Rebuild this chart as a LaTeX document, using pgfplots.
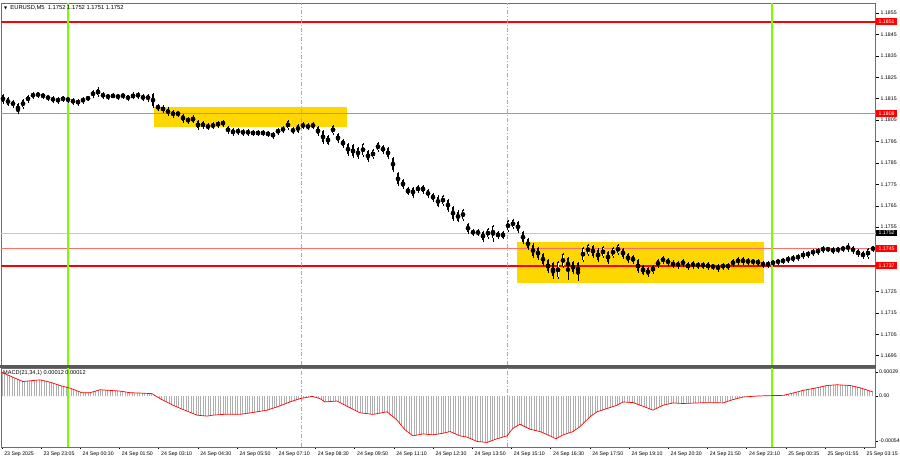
\documentclass[border=0pt]{standalone}
\usepackage{pgfplots}
\pgfplotsset{compat=1.18}
\usepackage{pgfplotstable}
\usepackage{fontspec}
\setmainfont{Liberation Sans}
\newfontfamily\symfont{DejaVu Sans}
\usetikzlibrary{patterns.meta}
\definecolor{mtred}{RGB}{255,0,0}
\definecolor{mtpink}{RGB}{255,110,110}
\definecolor{mtgold}{RGB}{255,215,0}
\definecolor{mtgreen}{RGB}{124,252,0}
\definecolor{mtdash}{RGB}{154,205,50}
\definecolor{histgray}{RGB}{175,175,175}
\definecolor{frame}{RGB}{110,110,110}
\newcommand\lab{\fontsize{5.2}{6}\selectfont}

\pgfplotstableread{
x o c
3 1.18167 1.18135
8 1.18153 1.18121
13 1.18139 1.18116
18 1.18125 1.18088
23 1.18111 1.18144
28 1.18139 1.18162
33 1.18158 1.18176
38 1.18162 1.18176
43 1.18172 1.18158
48 1.18162 1.18148
53 1.18158 1.18139
58 1.18153 1.18135
63 1.18144 1.18158
68 1.18153 1.18139
73 1.18148 1.18130
78 1.18144 1.18125
83 1.18135 1.18153
88 1.18148 1.18158
93 1.18162 1.18185
98 1.18167 1.18195
103 1.18176 1.18158
108 1.18167 1.18153
113 1.18158 1.18167
118 1.18167 1.18153
123 1.18158 1.18172
128 1.18162 1.18148
133 1.18153 1.18172
138 1.18158 1.18176
143 1.18167 1.18148
148 1.18167 1.18144
153 1.18172 1.18116
158 1.18121 1.18102
163 1.18111 1.18092
168 1.18102 1.18078
173 1.18092 1.18069
178 1.18074 1.18088
183 1.18074 1.18045
188 1.18060 1.18041
193 1.18045 1.18064
198 1.18045 1.18013
203 1.18017 1.18041
208 1.18031 1.18013
213 1.18017 1.18036
218 1.18022 1.18041
223 1.18027 1.18045
228 1.18017 1.17994
233 1.18008 1.17984
238 1.17989 1.18008
243 1.18003 1.17984
248 1.17984 1.18003
253 1.17998 1.17984
258 1.17984 1.17998
263 1.17998 1.17984
268 1.17994 1.17980
273 1.17989 1.17970
278 1.17989 1.18008
283 1.17998 1.18017
288 1.18013 1.18045
293 1.18013 1.17994
298 1.17998 1.18027
303 1.18017 1.18036
308 1.18031 1.18013
313 1.18017 1.18036
318 1.18017 1.17984
323 1.17998 1.17947
328 1.17975 1.17938
333 1.17989 1.18022
338 1.17984 1.17952
343 1.17957 1.17929
348 1.17938 1.17891
353 1.17933 1.17882
358 1.17919 1.17877
363 1.17887 1.17938
368 1.17905 1.17863
373 1.17877 1.17910
378 1.17910 1.17943
383 1.17929 1.17901
388 1.17919 1.17877
393 1.17873 1.17817
398 1.17803 1.17751
403 1.17770 1.17737
408 1.17733 1.17705
413 1.17733 1.17695
418 1.17719 1.17742
423 1.17742 1.17714
428 1.17723 1.17695
433 1.17705 1.17677
438 1.17691 1.17649
443 1.17658 1.17695
448 1.17677 1.17630
453 1.17644 1.17588
458 1.17621 1.17579
463 1.17588 1.17630
468 1.17564 1.17527
473 1.17537 1.17518
478 1.17537 1.17514
483 1.17527 1.17490
488 1.17504 1.17541
493 1.17500 1.17555
498 1.17527 1.17504
503 1.17527 1.17500
508 1.17537 1.17579
513 1.17550 1.17583
518 1.17574 1.17532
523 1.17527 1.17481
528 1.17495 1.17453
533 1.17467 1.17415
538 1.17453 1.17406
543 1.17424 1.17378
548 1.17396 1.17345
553 1.17382 1.17322
558 1.17317 1.17387
563 1.17368 1.17424
568 1.17406 1.17350
573 1.17387 1.17341
578 1.17382 1.17326
583 1.17396 1.17453
588 1.17424 1.17467
593 1.17462 1.17415
598 1.17443 1.17396
603 1.17415 1.17457
608 1.17434 1.17387
613 1.17415 1.17453
618 1.17429 1.17467
623 1.17448 1.17410
628 1.17424 1.17391
633 1.17415 1.17387
638 1.17396 1.17345
643 1.17368 1.17331
648 1.17359 1.17326
653 1.17341 1.17368
658 1.17368 1.17396
663 1.17387 1.17410
668 1.17401 1.17378
673 1.17391 1.17368
678 1.17387 1.17364
683 1.17373 1.17396
688 1.17382 1.17359
693 1.17364 1.17387
698 1.17382 1.17364
703 1.17364 1.17382
708 1.17382 1.17359
713 1.17373 1.17359
718 1.17373 1.17350
723 1.17359 1.17378
728 1.17378 1.17359
733 1.17373 1.17396
738 1.17382 1.17406
743 1.17406 1.17382
748 1.17401 1.17382
753 1.17396 1.17382
758 1.17396 1.17378
763 1.17387 1.17368
768 1.17368 1.17387
773 1.17378 1.17391
778 1.17382 1.17396
783 1.17387 1.17401
788 1.17391 1.17410
793 1.17396 1.17415
798 1.17401 1.17420
803 1.17410 1.17429
808 1.17415 1.17434
813 1.17424 1.17443
818 1.17429 1.17448
823 1.17439 1.17457
828 1.17453 1.17443
833 1.17453 1.17434
838 1.17439 1.17453
843 1.17443 1.17457
848 1.17443 1.17467
853 1.17457 1.17434
858 1.17443 1.17420
863 1.17434 1.17410
868 1.17410 1.17448
873 1.17443 1.17457
}\candles

\pgfplotstableread{
x h l
18 1.18120 1.18078
98 1.18204 1.18160
193 1.18074 1.18040
493 1.17560 1.17481
553 1.17380 1.17308
568 1.17400 1.17303
578 1.17380 1.17298
}\wicks

\pgfplotstableread{
x m
2 0.000286
13 0.000226
23 0.000175
33 0.000187
40 0.000195
50 0.000167
60 0.000127
70 0.000095
82 0.000040
90 0.000040
100 0.000076
110 0.000068
120 0.000060
130 0.000040
140 0.000036
152 0.000029
160 -0.000031
173 -0.000111
183 -0.000162
197 -0.000230
207 -0.000242
213 -0.000230
227 -0.000218
240 -0.000221
253 -0.000198
267 -0.000170
277 -0.000131
290 -0.000071
300 -0.000031
312 -0.000004
320 -0.000031
325 -0.000071
337 -0.000060
347 -0.000123
360 -0.000202
373 -0.000221
387 -0.000190
397 -0.000289
405 -0.000408
413 -0.000480
423 -0.000456
433 -0.000468
443 -0.000448
450 -0.000428
460 -0.000480
467 -0.000495
477 -0.000547
487 -0.000559
497 -0.000515
507 -0.000480
513 -0.000388
520 -0.000340
530 -0.000400
540 -0.000428
550 -0.000480
556 -0.000515
563 -0.000468
573 -0.000428
580 -0.000369
590 -0.000250
597 -0.000190
607 -0.000150
617 -0.000111
623 -0.000071
633 -0.000079
643 -0.000123
653 -0.000170
663 -0.000111
673 -0.000083
683 -0.000090
697 -0.000083
710 -0.000079
723 -0.000083
733 -0.000043
743 -0.000012
757 0.000000
770 0.000005
783 0.000008
793 0.000036
803 0.000068
817 0.000100
827 0.000127
837 0.000136
850 0.000127
860 0.000100
870 0.000060
873 0.000050
}\macd

\begin{document}
\begin{tikzpicture}
\useasboundingbox (0,0) rectangle (900pt,460pt);
\fill[white] (0,0) rectangle (900pt,460pt);
% ---------------- main price panel ----------------
\begin{axis}[
  at={(1pt,457pt)}, anchor=north west,
  scale only axis, width=874.7pt, height=362pt,
  xmin=1, xmax=875.7, ymin=1.169064, ymax=1.18597,
  clip=false,
  axis line style={draw=frame, line width=0.6pt},
  xtick=\empty,
  ytick={1.1695,1.1705,1.1715,1.1725,1.1755,1.1765,1.1775,1.1785,1.1795,1.1805,1.1815,1.1825,1.1835,1.1845,1.1855},
  yticklabels={1.1695,1.1705,1.1715,1.1725,1.1755,1.1765,1.1775,1.1785,1.1795,1.1805,1.1815,1.1825,1.1835,1.1845,1.1855},
  ytick pos=right, yticklabel pos=right, tick align=outside,
  major tick length=3pt, tick style={draw=black, line width=0.5pt},
  yticklabel style={font=\lab, anchor=west, xshift=-1.5pt},
  scaled y ticks=false,
]
% yellow zones
\addplot[fill=mtgold, draw=none, forget plot] coordinates {(153.5,1.18113) (347,1.18113) (347,1.18018) (153.5,1.18018)} -- cycle;
\addplot[fill=mtgold, draw=none, forget plot] coordinates {(516.7,1.17482) (764.3,1.17482) (764.3,1.17290) (516.7,1.17290)} -- cycle;
% bid line
\addplot[draw=gray!45, line width=0.6pt, forget plot] coordinates {(1,1.17522) (875.7,1.17522)};
% horizontal levels
\addplot[draw=red, line width=2pt, mark=none, forget plot] coordinates {(1,1.1851) (875.7,1.1851)};
\addplot[draw=mtpink, line width=1pt, mark=none, forget plot] coordinates {(1,1.1808) (875.7,1.1808)};
\addplot[draw=mtpink, line width=1.1pt, mark=none, forget plot] coordinates {(1,1.1745) (875.7,1.1745)};
\addplot[draw=red, line width=2pt, mark=none, forget plot] coordinates {(1,1.1737) (875.7,1.1737)};
% vertical separators
\addplot[draw=mtgreen, line width=1.8pt, forget plot] coordinates {(68,1.169064) (68,1.18597)};
\addplot[draw=mtgreen, line width=1.8pt, forget plot] coordinates {(771.7,1.169064) (771.7,1.18597)};
\addplot[draw=mtdash, line width=0.6pt, dash pattern=on 4pt off 2pt on 1pt off 2pt, forget plot] coordinates {(301.7,1.169064) (301.7,1.18597)};
\addplot[draw=mtdash, line width=0.6pt, dash pattern=on 4pt off 2pt on 1pt off 2pt, forget plot] coordinates {(507.3,1.169064) (507.3,1.18597)};
% candles: wicks
\addplot[only marks, mark=none, forget plot,
  error bars/.cd, y dir=both, y explicit, error mark=none,
  error bar style={draw=black, solid, line width=0.6pt}]
  table[x=x, y expr={(\thisrow{o}+\thisrow{c})/2},
        y error expr={abs(\thisrow{o}-\thisrow{c})/2+0.00007}] {\candles};
\addplot[only marks, mark=none, forget plot,
  error bars/.cd, y dir=both, y explicit, error mark=none,
  error bar style={draw=black, solid, line width=0.6pt}]
  table[x=x, y expr={(\thisrow{h}+\thisrow{l})/2},
        y error expr={(\thisrow{h}-\thisrow{l})/2}] {\wicks};
% candles: bodies
\addplot[only marks, mark=none, forget plot,
  error bars/.cd, y dir=both, y explicit, error mark=none,
  error bar style={draw=black, solid, line width=2.1pt}]
  table[x=x, y expr={(\thisrow{o}+\thisrow{c})/2},
        y error expr={max(abs(\thisrow{o}-\thisrow{c})/2,0.00002)}] {\candles};
% bullish bodies hollow
\addplot[only marks, mark=none, forget plot,
  error bars/.cd, y dir=both, y explicit, error mark=none,
  error bar style={draw=white, solid, line width=0.7pt}]
  table[x=x, y expr={(\thisrow{o}+\thisrow{c})/2},
        y error expr={max((\thisrow{c}-\thisrow{o})/2-0.000025,0)}] {\candles};
% price tags
\node[fill=mtred, text=white, font=\lab, inner sep=0pt, minimum width=21pt, minimum height=6.6pt, anchor=west] at (axis cs:875.9,1.1851) {1.1851};
\node[fill=mtred, text=white, font=\lab, inner sep=0pt, minimum width=21pt, minimum height=6.6pt, anchor=west] at (axis cs:875.9,1.1808) {1.1808};
\node[fill=black, text=white, font=\lab, inner sep=0pt, minimum width=21pt, minimum height=6.6pt, anchor=west] at (axis cs:875.9,1.17522) {1.1752};
\node[fill=mtred, text=white, font=\lab, inner sep=0pt, minimum width=21pt, minimum height=6.6pt, anchor=west] at (axis cs:875.9,1.1745) {1.1745};
\node[fill=mtred, text=white, font=\lab, inner sep=0pt, minimum width=21pt, minimum height=6.6pt, anchor=west] at (axis cs:875.9,1.1737) {1.1737};
% header
\node[anchor=north west, inner sep=0pt, font=\fontsize{5.8}{6}\selectfont] at (rel axis cs:0,1) [xshift=3pt, yshift=-2pt]
  {{\symfont\fontsize{4}{4}\selectfont ▼}\ \ EURUSD,M5\ \ 1.1752 1.1752 1.1751 1.1752};
\end{axis}
% separator
\fill[black!65] (0,92.3pt) rectangle (876.4pt,95.2pt);
% ---------------- MACD panel ----------------
\begin{axis}[
  at={(1pt,92pt)}, anchor=north west,
  scale only axis, width=874.7pt, height=79pt,
  xmin=1, xmax=875.7, ymin=-0.000614, ymax=0.000338,
  clip=false,
  axis line style={draw=frame, line width=0.6pt},
  xtick={1.8,41,80.2,119.4,158.6,197.8,237,276.2,315.4,354.6,393.8,433,472.2,511.4,550.6,589.8,629,668.2,707.4,746.6,785.8,825,864.2},
  xticklabels={23 Sep 2025,23 Sep 23:05,24 Sep 00:30,24 Sep 01:50,24 Sep 03:10,24 Sep 04:30,24 Sep 05:50,24 Sep 07:10,24 Sep 08:30,24 Sep 09:50,24 Sep 11:10,24 Sep 12:30,24 Sep 13:50,24 Sep 15:10,24 Sep 16:30,24 Sep 17:50,24 Sep 19:10,24 Sep 20:30,24 Sep 21:50,24 Sep 23:10,25 Sep 00:35,25 Sep 01:55,25 Sep 03:15},
  xtick pos=bottom, xticklabel style={font=\lab, anchor=north west, xshift=-1pt, yshift=1pt},
  ytick={-0.00054,0,0.00029},
  yticklabels={-0.00054,0.00,0.00029},
  ytick pos=right, yticklabel pos=right, tick align=outside,
  major tick length=2pt, tick style={draw=black, line width=0.5pt},
  yticklabel style={font=\lab, anchor=west, xshift=-2pt},
  scaled y ticks=false,
]
\addplot[draw=none, pattern={Lines[angle=90, distance=2.45pt, line width=0.9pt]}, pattern color=histgray, forget plot]
  table[x=x, y=m] {\macd} \closedcycle;
\addplot[draw=mtgreen, line width=1.8pt, forget plot] coordinates {(68,-0.000614) (68,0.000338)};
\addplot[draw=mtgreen, line width=1.8pt, forget plot] coordinates {(771.7,-0.000614) (771.7,0.000338)};
\addplot[draw=mtdash, line width=0.6pt, dash pattern=on 4pt off 2pt on 1pt off 2pt, forget plot] coordinates {(301.7,-0.000614) (301.7,0.000338)};
\addplot[draw=mtdash, line width=0.6pt, dash pattern=on 4pt off 2pt on 1pt off 2pt, forget plot] coordinates {(507.3,-0.000614) (507.3,0.000338)};
\addplot[draw=red, line width=0.7pt, forget plot] table[x=x, y=m] {\macd};
\node[anchor=north west, inner sep=0pt, font=\fontsize{5.6}{6}\selectfont] at (rel axis cs:0,1) [xshift=2pt, yshift=-2pt]
  {MACD(21,34,1) 0.00012 0.00012};
\end{axis}
\end{tikzpicture}
\end{document}
